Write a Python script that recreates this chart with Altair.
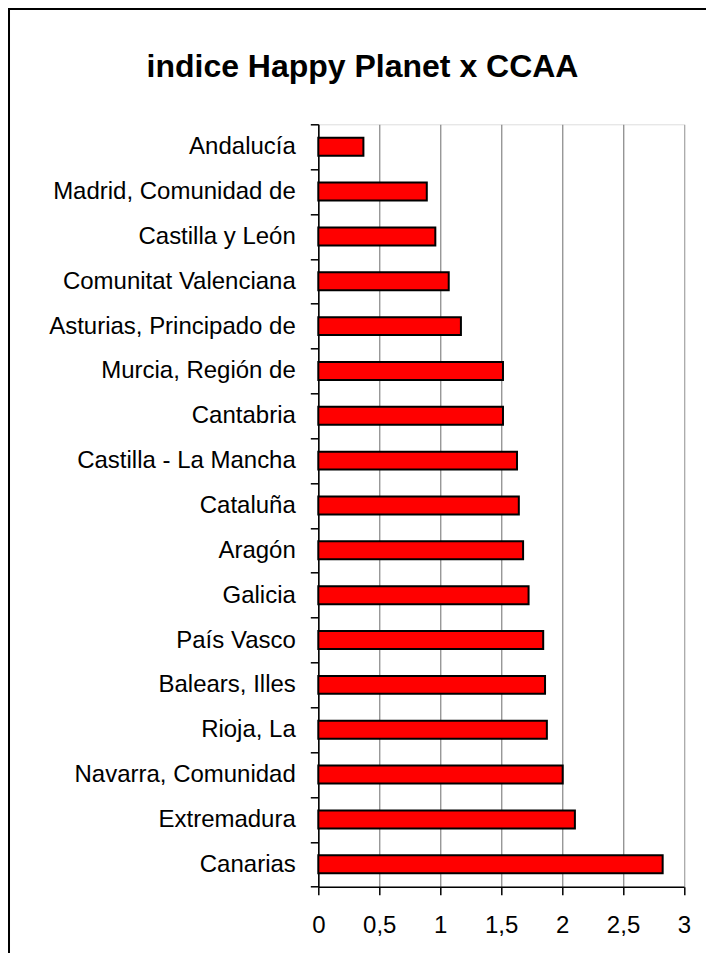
import altair as alt
import pandas as pd

regions = [
    "Andalucía", "Madrid, Comunidad de", "Castilla y León", "Comunitat Valenciana",
    "Asturias, Principado de", "Murcia, Región de", "Cantabria", "Castilla - La Mancha",
    "Cataluña", "Aragón", "Galicia", "País Vasco", "Balears, Illes", "Rioja, La",
    "Navarra, Comunidad", "Extremadura", "Canarias",
]
values = [
    0.37, 0.89, 0.96, 1.07, 1.17, 1.515, 1.515, 1.63, 1.645, 1.68,
    1.725, 1.845, 1.86, 1.875, 2.005, 2.105, 2.825,
]
x_ticks = [0, 0.5, 1, 1.5, 2, 2.5, 3]
title_text = "indice Happy Planet x CCAA"

df = pd.DataFrame({"region": regions, "value": values})

PL, PT, W, H, PR, PB = 310.3, 116.3, 365.7, 762.4, 22, 66
FONT = "Liberation Sans"

bars = alt.Chart(df).mark_bar(
    color="#FF0000", stroke="#000000", strokeWidth=2, height={"band": 0.4}
).encode(
    y=alt.Y(
        "region:N", sort=None, title=None,
        scale=alt.Scale(paddingInner=0, paddingOuter=0),
        axis=alt.Axis(
            tickBand="extent", tickSize=8, tickColor="#000000", tickWidth=1.5,
            domainColor="#000000", domainWidth=1.5, grid=False,
            labelFont=FONT, labelFontSize=24, labelColor="#000000",
            labelPadding=15, labelLimit=400,
        ),
    ),
    x=alt.X(
        "value:Q", title=None,
        scale=alt.Scale(domain=[0, 3], nice=False, zero=True),
        axis=alt.Axis(
            values=x_ticks, tickSize=8, tickColor="#000000", tickWidth=1.5,
            domainColor="#000000", domainWidth=1.5,
            grid=True,
            gridColor=alt.condition("datum.value >= 3", alt.value("#9a9a9a"), alt.value("#6b6b6b")),
            gridWidth=1,
            labelFont=FONT, labelFontSize=24, labelColor="#000000",
            labelBaseline="alphabetic", labelPadding=38, labelFlush=False,
            labelExpr="replace(format(datum.value, '~g'), '.', ',')",
        ),
    ),
)

title = alt.Chart(alt.Data(values=[{"t": title_text}])).mark_text(
    font=FONT, fontSize=32, fontWeight="bold", color="#000000",
    align="center", baseline="alphabetic", clip=False,
).encode(
    text="t:N",
    x=alt.value(44.2),
    y=alt.value(-47.6),
)

frame = alt.Chart(alt.Data(values=[{"f": 1}])).mark_rect(
    fill=None, filled=False, stroke="#000000", strokeWidth=2, clip=False
).encode(
    x=alt.value(-PL + 1),
    x2=alt.value(W + PR + 60),
    y=alt.value(-PT + 1),
    y2=alt.value(H + PB + 60),
)

chart = alt.layer(bars, title, frame).properties(
    width=W,
    height=H,
    padding={"left": PL, "top": PT, "right": PR, "bottom": PB},
    autosize=alt.AutoSizeParams(type="none"),
).configure_view(
    stroke="#9a9a9a", strokeWidth=1.5
).configure(background="#ffffff")

chart.save("out.html", embed_options={"renderer": "svg", "actions": False})
